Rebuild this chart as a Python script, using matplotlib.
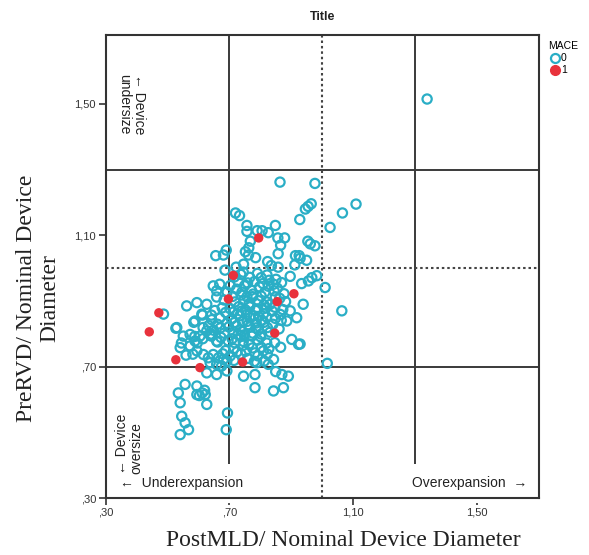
import matplotlib
matplotlib.use("Agg")
import matplotlib.pyplot as plt
from matplotlib.lines import Line2D

# ---- data ----
x_mace0 = [
    1.340, 0.864, 0.977, 1.110, 1.066, 0.955, 0.965, 0.946, 1.026, 0.928,
    0.720, 0.733, 0.757, 0.757, 0.790, 0.806, 0.849, 0.826, 0.857, 0.879,
    0.866, 0.954, 0.962, 0.977, 0.768, 0.763, 0.752, 0.656, 0.681, 0.690,
    0.762, 0.785, 0.858, 0.914, 0.926, 0.950, 0.929, 0.824, 0.836, 0.858,
    0.912, 0.746, 0.722, 0.686, 0.983, 0.967, 0.956, 0.934, 1.010, 0.897,
    0.939, 1.064, 0.918, 0.897, 0.886, 0.929, 0.902, 0.924, 1.017,
    0.487, 0.527, 0.562, 0.595, 0.627, 0.648, 0.659, 0.589, 0.611, 0.530,
    0.551, 0.573, 0.589, 0.605, 0.627, 0.643, 0.659, 0.541, 0.573, 0.595,
    0.616, 0.632, 0.648, 0.665, 0.681, 0.638, 0.659, 0.675, 0.692, 0.627,
    0.659, 0.692, 0.560, 0.582, 0.545, 0.613, 0.585, 0.615, 0.637, 0.588,
    0.557, 0.535, 0.595, 0.595, 0.622, 0.627, 0.541, 0.546, 0.557, 0.568,
    0.541, 0.694, 0.690, 0.612, 0.603, 0.620,
    0.783, 0.843, 0.875, 0.783, 0.746, 0.870, 0.891, 0.789, 0.826, 0.810,
    0.843, 0.850,
    0.716, 0.729, 0.737, 0.759, 0.766, 0.781, 0.803, 0.809, 0.829, 0.843,
    0.851, 0.869, 0.745, 0.791, 0.822,
    0.703, 0.724, 0.741, 0.749, 0.771, 0.777, 0.798, 0.815, 0.826, 0.845,
    0.855, 0.877, 0.693, 0.669,
    0.711, 0.718, 0.738, 0.747, 0.764, 0.775, 0.794, 0.803, 0.821, 0.831,
    0.849, 0.863, 0.882, 0.683, 0.659,
    0.702, 0.713, 0.731, 0.739, 0.757, 0.766, 0.785, 0.792, 0.811, 0.819,
    0.839, 0.847, 0.865, 0.873, 0.688, 0.677, 0.653, 0.642,
    0.707, 0.716, 0.734, 0.743, 0.761, 0.768, 0.787, 0.795, 0.812, 0.821,
    0.841, 0.849, 0.868, 0.692, 0.669, 0.662, 0.643,
    0.698, 0.714, 0.723, 0.741, 0.749, 0.767, 0.776, 0.794, 0.803, 0.823,
    0.832, 0.861, 0.683, 0.671, 0.649, 0.633,
    0.709, 0.717, 0.737, 0.745, 0.764, 0.773, 0.792, 0.801, 0.821, 0.696,
    0.673, 0.662, 0.642, 0.614, 0.596,
    0.714, 0.725, 0.745, 0.753, 0.775, 0.783, 0.803, 0.688, 0.679, 0.828,
    0.847, 0.866,
    0.703, 0.715, 0.738, 0.759, 0.781, 0.792, 0.813, 0.823,
    0.727, 0.752, 0.779, 0.804, 0.736, 0.758, 0.786, 0.728, 0.812, 0.757,
]
y_mace0 = [
    1.515, 1.262, 1.258, 1.195, 1.168, 1.188, 1.196, 1.180, 1.124, 1.148,
    1.168, 1.160, 1.130, 1.112, 1.114, 1.114, 1.130, 1.108, 1.092, 1.092,
    1.070, 1.082, 1.074, 1.068, 1.082, 1.062, 1.050, 1.038, 1.040, 1.055,
    1.040, 1.032, 1.044, 1.038, 1.038, 1.024, 1.030, 1.020, 1.008, 1.003,
    1.010, 1.012, 1.003, 0.994, 0.977, 0.971, 0.961, 0.953, 0.941, 0.975,
    0.890, 0.870, 0.849, 0.870, 0.839, 0.769, 0.783, 0.768, 0.710,
    0.860, 0.817, 0.885, 0.895, 0.890, 0.946, 0.931, 0.839, 0.860, 0.819,
    0.793, 0.798, 0.778, 0.793, 0.809, 0.799, 0.778, 0.758, 0.763, 0.748,
    0.737, 0.727, 0.737, 0.727, 0.722, 0.712, 0.707, 0.702, 0.717, 0.681,
    0.676, 0.687, 0.735, 0.738, 0.772, 0.857, 0.835, 0.819, 0.797, 0.792,
    0.646, 0.620, 0.641, 0.615, 0.615, 0.585, 0.590, 0.549, 0.529, 0.508,
    0.493, 0.559, 0.508, 0.620, 0.612, 0.628,
    0.636, 0.626, 0.636, 0.676, 0.671, 0.676, 0.671, 0.712, 0.707, 0.748,
    0.722, 0.685,
    0.973, 0.958, 0.981, 0.955, 0.972, 0.959, 0.971, 0.953, 0.963, 0.951,
    0.966, 0.956, 0.988, 0.984, 0.979,
    0.947, 0.936, 0.927, 0.946, 0.933, 0.921, 0.943, 0.927, 0.945, 0.931,
    0.939, 0.922, 0.927, 0.951,
    0.914, 0.897, 0.918, 0.902, 0.892, 0.913, 0.901, 0.915, 0.897, 0.889,
    0.912, 0.908, 0.898, 0.903, 0.912,
    0.877, 0.866, 0.883, 0.869, 0.859, 0.882, 0.871, 0.876, 0.861, 0.879,
    0.869, 0.881, 0.859, 0.874, 0.865, 0.879, 0.871, 0.857,
    0.845, 0.834, 0.855, 0.837, 0.828, 0.849, 0.833, 0.853, 0.835, 0.851,
    0.829, 0.847, 0.841, 0.832, 0.848, 0.829, 0.843,
    0.821, 0.805, 0.824, 0.807, 0.797, 0.821, 0.802, 0.812, 0.799, 0.819,
    0.805, 0.815, 0.802, 0.818, 0.811, 0.825,
    0.785, 0.773, 0.795, 0.777, 0.769, 0.793, 0.781, 0.791, 0.772, 0.779,
    0.789, 0.775, 0.793, 0.785, 0.772,
    0.755, 0.745, 0.765, 0.747, 0.757, 0.742, 0.759, 0.749, 0.739, 0.755,
    0.773, 0.759,
    0.733, 0.719, 0.738, 0.725, 0.716, 0.733, 0.717, 0.738,
    0.861, 0.873, 0.855, 0.842, 0.812, 0.838, 0.818, 0.798, 0.888, 0.913,
]
x_mace1 = [0.795, 0.713, 0.697, 0.909, 0.855, 0.472, 0.441, 0.847, 0.527, 0.605, 0.743]
y_mace1 = [1.092, 0.978, 0.906, 0.922, 0.898, 0.864, 0.806, 0.802, 0.721, 0.697, 0.714]

tick_vals = [0.30, 0.70, 1.10, 1.50]
tick_labels = [",30", ",70", "1,10", "1,50"]
solid_refs = [0.70, 1.30]
dotted_refs = [1.00]
legend_title = "MACE"
legend_labels = ["0", "1"]

teal = "#2aaec6"
red = "#e8323c"

fig = plt.figure(figsize=(5.89, 5.55), dpi=100)
ax = fig.add_axes([105.7 / 589, 1 - 498 / 555, (539.3 - 105.7) / 589, (498 - 35) / 555])

ax.set_xlim(0.30, 1.703)
ax.set_ylim(0.30, 1.71)

for v in solid_refs:
    ax.axvline(v, color="#3a3a3a", lw=1.4, zorder=1)
    ax.axhline(v, color="#3a3a3a", lw=1.4, zorder=1)
for v in dotted_refs:
    ax.axvline(v, color="#444444", lw=1.5, ls=(0, (1.2, 1.4)), zorder=1)
    ax.axhline(v, color="#444444", lw=1.5, ls=(0, (1.2, 1.4)), zorder=1)

ax.scatter(x_mace0, y_mace0, s=44, facecolors="none", edgecolors=teal, linewidths=1.6, zorder=3)
ax.scatter(x_mace1, y_mace1, s=46, color=red, edgecolors="none", zorder=4)

sans = ["Liberation Sans", "DejaVu Sans"]
serif = ["Liberation Serif", "DejaVu Serif"]

ax.set_xticks(tick_vals)
ax.set_xticklabels(tick_labels)
ax.set_yticks(tick_vals)
ax.set_yticklabels(tick_labels)
ax.tick_params(axis="both", length=5, width=1.2, color="#333333", labelsize=8,
               labelcolor="#333333", pad=2)
for lab in ax.get_xticklabels() + ax.get_yticklabels():
    lab.set_family(sans)
for sp in ax.spines.values():
    sp.set_linewidth(1.5)
    sp.set_color("#333333")
    sp.set_zorder(5)

box = dict(boxstyle="square,pad=0.9", fc="white", ec="none")
ax.text(0.346, 0.345, "\u2190  Underexpansion", family=sans, fontsize=10, ha="left", va="center",
        color="#222222", bbox=box, zorder=2)
ax.text(1.665, 0.345, "Overexpansion  \u2192", family=sans, fontsize=10, ha="right", va="center",
        color="#222222", bbox=box, zorder=2)
ax.text(0.384, 1.50, "\u2190 Device\nundersize", family=sans, fontsize=10, rotation=270,
        ha="center", va="center", multialignment="left", color="#222222", linespacing=1.1,
        bbox=dict(boxstyle="square,pad=0.3", fc="white", ec="none"), zorder=2)
ax.text(0.376, 0.465, "\u2190 Device\noversize", family=sans, fontsize=10, rotation=90,
        ha="center", va="center", multialignment="left", color="#222222", linespacing=1.1,
        bbox=dict(boxstyle="square,pad=0.3", fc="white", ec="none"), zorder=2)

fig.text(322.5 / 589, 1 - 17 / 555, "Title", family=sans, fontsize=9, fontweight="bold",
         ha="center", va="center", color="#222222")
fig.text(343 / 589, 1 - 540 / 555, "PostMLD/ Nominal Device Diameter", family=serif,
         fontsize=17, ha="center", va="center", color="#222222")
fig.text(38 / 589, 1 - 298 / 555, "PreRVD/ Nominal Device\nDiameter", family=serif,
         fontsize=17, ha="center", va="center", rotation=90, multialignment="center",
         linespacing=1.15, color="#222222")

handles = [
    Line2D([], [], ls="none", marker="o", markersize=6.5, markerfacecolor="none",
           markeredgecolor=teal, markeredgewidth=1.6),
    Line2D([], [], ls="none", marker="o", markersize=7, markerfacecolor=red,
           markeredgecolor=red),
]
leg = fig.legend(handles, legend_labels, title=legend_title, loc="upper left",
                 bbox_to_anchor=(541 / 589, 1 - 34 / 555), frameon=False,
                 prop={"family": sans, "size": 7.5}, title_fontproperties={"family": sans, "size": 7.5},
                 handletextpad=0.0, handlelength=1.2, labelspacing=0.2, borderpad=0.2)
leg._legend_box.align = "left"

fig.savefig("out.png", dpi=100, facecolor="white")
